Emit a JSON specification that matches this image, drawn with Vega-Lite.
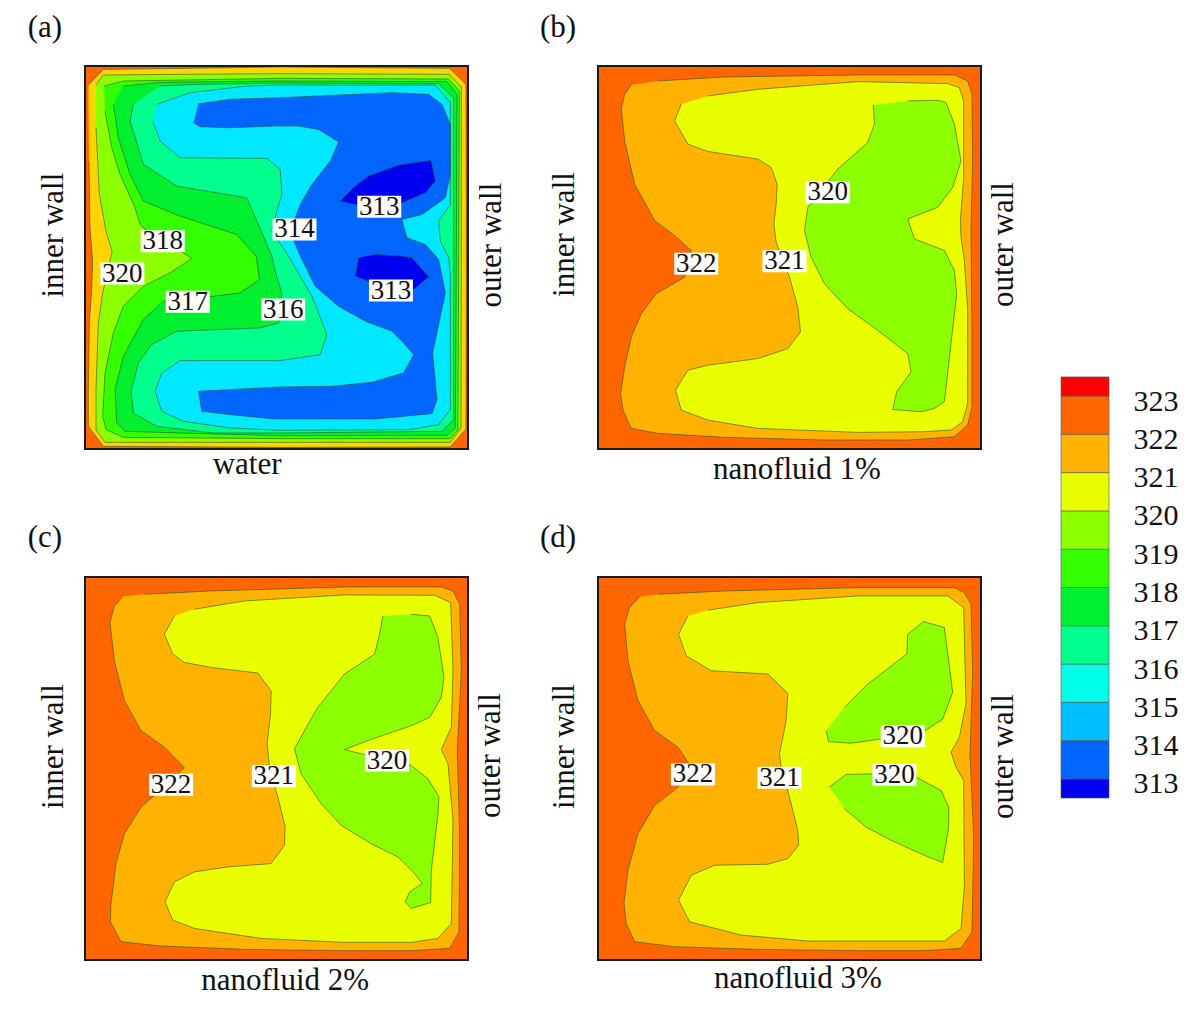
{"$schema":"https://vega.github.io/schema/vega-lite/v6.json","autosize":{"type":"none"},"padding":{"left":85,"top":66,"right":1115,"bottom":943},"background":"white",
"datasets":{
"a":[
{"p":"a1","b":"320-321","x":25,"y":72},{"p":"a1","b":"320-321","x":70,"y":25},{"p":"a1","b":"320-321","x":320,"y":22},{"p":"a1","b":"320-321","x":600,"y":18},{"p":"a1","b":"320-321","x":1108,"y":22},{"p":"a1","b":"320-321","x":1157,"y":70},{"p":"a1","b":"320-321","x":1158,"y":600},{"p":"a1","b":"320-321","x":1157,"y":1103},{"p":"a1","b":"320-321","x":1110,"y":1157},{"p":"a1","b":"320-321","x":600,"y":1158},{"p":"a1","b":"320-321","x":70,"y":1155},{"p":"a1","b":"320-321","x":25,"y":1095},{"p":"a1","b":"320-321","x":25,"y":985},{"p":"a1","b":"320-321","x":28,"y":785},{"p":"a1","b":"320-321","x":35,"y":685},{"p":"a1","b":"320-321","x":38,"y":600},{"p":"a1","b":"320-321","x":30,"y":500},{"p":"a1","b":"320-321","x":27,"y":300},
{"p":"a2","b":"319","x":48,"y":72},{"p":"a2","b":"319","x":70,"y":42},{"p":"a2","b":"319","x":300,"y":40},{"p":"a2","b":"319","x":600,"y":38},{"p":"a2","b":"319","x":1107,"y":40},{"p":"a2","b":"319","x":1143,"y":78},{"p":"a2","b":"319","x":1143,"y":600},{"p":"a2","b":"319","x":1142,"y":1100},{"p":"a2","b":"319","x":1110,"y":1143},{"p":"a2","b":"319","x":600,"y":1143},{"p":"a2","b":"319","x":75,"y":1143},{"p":"a2","b":"319","x":48,"y":1105},{"p":"a2","b":"319","x":48,"y":985},{"p":"a2","b":"319","x":55,"y":785},{"p":"a2","b":"319","x":69,"y":690},{"p":"a2","b":"319","x":90,"y":600},{"p":"a2","b":"319","x":96,"y":570},{"p":"a2","b":"319","x":78,"y":510},{"p":"a2","b":"319","x":58,"y":400},{"p":"a2","b":"319","x":48,"y":200},
{"p":"a3","b":"318","x":72,"y":75},{"p":"a3","b":"318","x":130,"y":60},{"p":"a3","b":"318","x":600,"y":52},{"p":"a3","b":"318","x":1105,"y":54},{"p":"a3","b":"318","x":1137,"y":90},{"p":"a3","b":"318","x":1135,"y":600},{"p":"a3","b":"318","x":1133,"y":1105},{"p":"a3","b":"318","x":1110,"y":1132},{"p":"a3","b":"318","x":600,"y":1132},{"p":"a3","b":"318","x":130,"y":1128},{"p":"a3","b":"318","x":78,"y":1105},{"p":"a3","b":"318","x":68,"y":1065},{"p":"a3","b":"318","x":75,"y":935},{"p":"a3","b":"318","x":100,"y":815},{"p":"a3","b":"318","x":130,"y":735},{"p":"a3","b":"318","x":190,"y":675},{"p":"a3","b":"318","x":270,"y":635},{"p":"a3","b":"318","x":335,"y":592},{"p":"a3","b":"318","x":310,"y":575},{"p":"a3","b":"318","x":250,"y":555},{"p":"a3","b":"318","x":180,"y":490},{"p":"a3","b":"318","x":165,"y":440},{"p":"a3","b":"318","x":120,"y":340},{"p":"a3","b":"318","x":95,"y":260},{"p":"a3","b":"318","x":75,"y":150},
{"p":"a4","b":"317","x":130,"y":75},{"p":"a4","b":"317","x":240,"y":64},{"p":"a4","b":"317","x":600,"y":60},{"p":"a4","b":"317","x":1100,"y":62},{"p":"a4","b":"317","x":1130,"y":100},{"p":"a4","b":"317","x":1128,"y":600},{"p":"a4","b":"317","x":1125,"y":1100},{"p":"a4","b":"317","x":1100,"y":1122},{"p":"a4","b":"317","x":600,"y":1123},{"p":"a4","b":"317","x":300,"y":1115},{"p":"a4","b":"317","x":135,"y":1110},{"p":"a4","b":"317","x":110,"y":1085},{"p":"a4","b":"317","x":105,"y":985},{"p":"a4","b":"317","x":130,"y":885},{"p":"a4","b":"317","x":190,"y":775},{"p":"a4","b":"317","x":250,"y":720},{"p":"a4","b":"317","x":400,"y":705},{"p":"a4","b":"317","x":480,"y":695},{"p":"a4","b":"317","x":538,"y":655},{"p":"a4","b":"317","x":528,"y":585},{"p":"a4","b":"317","x":470,"y":520},{"p":"a4","b":"317","x":300,"y":465},{"p":"a4","b":"317","x":190,"y":420},{"p":"a4","b":"317","x":150,"y":340},{"p":"a4","b":"317","x":115,"y":230},{"p":"a4","b":"317","x":100,"y":130},
{"p":"a5","b":"316","x":240,"y":75},{"p":"a5","b":"316","x":350,"y":70},{"p":"a5","b":"316","x":600,"y":66},{"p":"a5","b":"316","x":1075,"y":68},{"p":"a5","b":"316","x":1120,"y":110},{"p":"a5","b":"316","x":1120,"y":600},{"p":"a5","b":"316","x":1120,"y":1075},{"p":"a5","b":"316","x":1085,"y":1110},{"p":"a5","b":"316","x":600,"y":1115},{"p":"a5","b":"316","x":400,"y":1115},{"p":"a5","b":"316","x":230,"y":1095},{"p":"a5","b":"316","x":160,"y":1055},{"p":"a5","b":"316","x":153,"y":990},{"p":"a5","b":"316","x":175,"y":905},{"p":"a5","b":"316","x":215,"y":850},{"p":"a5","b":"316","x":290,"y":810},{"p":"a5","b":"316","x":540,"y":800},{"p":"a5","b":"316","x":595,"y":785},{"p":"a5","b":"316","x":600,"y":775},{"p":"a5","b":"316","x":605,"y":695},{"p":"a5","b":"316","x":585,"y":630},{"p":"a5","b":"316","x":575,"y":585},{"p":"a5","b":"316","x":500,"y":410},{"p":"a5","b":"316","x":290,"y":375},{"p":"a5","b":"316","x":190,"y":310},{"p":"a5","b":"316","x":150,"y":180},{"p":"a5","b":"316","x":160,"y":130},
{"p":"a6","b":"314-315","x":230,"y":130},{"p":"a6","b":"314-315","x":330,"y":95},{"p":"a6","b":"314-315","x":500,"y":75},{"p":"a6","b":"314-315","x":600,"y":72},{"p":"a6","b":"314-315","x":1065,"y":72},{"p":"a6","b":"314-315","x":1110,"y":125},{"p":"a6","b":"314-315","x":1110,"y":430},{"p":"a6","b":"314-315","x":1075,"y":480},{"p":"a6","b":"314-315","x":1080,"y":540},{"p":"a6","b":"314-315","x":1105,"y":590},{"p":"a6","b":"314-315","x":1110,"y":640},{"p":"a6","b":"314-315","x":1110,"y":1045},{"p":"a6","b":"314-315","x":1075,"y":1090},{"p":"a6","b":"314-315","x":985,"y":1105},{"p":"a6","b":"314-315","x":600,"y":1107},{"p":"a6","b":"314-315","x":450,"y":1100},{"p":"a6","b":"314-315","x":310,"y":1080},{"p":"a6","b":"314-315","x":245,"y":1050},{"p":"a6","b":"314-315","x":225,"y":990},{"p":"a6","b":"314-315","x":245,"y":935},{"p":"a6","b":"314-315","x":300,"y":898},{"p":"a6","b":"314-315","x":600,"y":898},{"p":"a6","b":"314-315","x":720,"y":880},{"p":"a6","b":"314-315","x":740,"y":820},{"p":"a6","b":"314-315","x":695,"y":705},{"p":"a6","b":"314-315","x":625,"y":585},{"p":"a6","b":"314-315","x":575,"y":510},{"p":"a6","b":"314-315","x":590,"y":450},{"p":"a6","b":"314-315","x":605,"y":400},{"p":"a6","b":"314-315","x":600,"y":325},{"p":"a6","b":"314-315","x":560,"y":292},{"p":"a6","b":"314-315","x":300,"y":290},{"p":"a6","b":"314-315","x":240,"y":240},{"p":"a6","b":"314-315","x":218,"y":180},
{"p":"a7","b":"313","x":355,"y":128},{"p":"a7","b":"313","x":450,"y":115},{"p":"a7","b":"313","x":600,"y":110},{"p":"a7","b":"313","x":935,"y":95},{"p":"a7","b":"313","x":1045,"y":100},{"p":"a7","b":"313","x":1085,"y":130},{"p":"a7","b":"313","x":1110,"y":190},{"p":"a7","b":"313","x":1110,"y":340},{"p":"a7","b":"313","x":1095,"y":410},{"p":"a7","b":"313","x":1025,"y":460},{"p":"a7","b":"313","x":965,"y":475},{"p":"a7","b":"313","x":980,"y":530},{"p":"a7","b":"313","x":1035,"y":550},{"p":"a7","b":"313","x":1075,"y":595},{"p":"a7","b":"313","x":1095,"y":695},{"p":"a7","b":"313","x":1057,"y":875},{"p":"a7","b":"313","x":1070,"y":1015},{"p":"a7","b":"313","x":1055,"y":1057},{"p":"a7","b":"313","x":885,"y":1073},{"p":"a7","b":"313","x":585,"y":1073},{"p":"a7","b":"313","x":450,"y":1060},{"p":"a7","b":"313","x":365,"y":1050},{"p":"a7","b":"313","x":355,"y":990},{"p":"a7","b":"313","x":450,"y":985},{"p":"a7","b":"313","x":600,"y":977},{"p":"a7","b":"313","x":755,"y":975},{"p":"a7","b":"313","x":875,"y":963},{"p":"a7","b":"313","x":970,"y":935},{"p":"a7","b":"313","x":1000,"y":880},{"p":"a7","b":"313","x":970,"y":845},{"p":"a7","b":"313","x":935,"y":810},{"p":"a7","b":"313","x":855,"y":780},{"p":"a7","b":"313","x":775,"y":735},{"p":"a7","b":"313","x":705,"y":675},{"p":"a7","b":"313","x":665,"y":595},{"p":"a7","b":"313","x":637,"y":530},{"p":"a7","b":"313","x":645,"y":470},{"p":"a7","b":"313","x":660,"y":430},{"p":"a7","b":"313","x":695,"y":370},{"p":"a7","b":"313","x":750,"y":300},{"p":"a7","b":"313","x":775,"y":243},{"p":"a7","b":"313","x":715,"y":205},{"p":"a7","b":"313","x":655,"y":195},{"p":"a7","b":"313","x":585,"y":195},{"p":"a7","b":"313","x":450,"y":200},{"p":"a7","b":"313","x":360,"y":197},{"p":"a7","b":"313","x":340,"y":185},
{"p":"a8","b":"312","x":780,"y":420},{"p":"a8","b":"312","x":825,"y":375},{"p":"a8","b":"312","x":865,"y":345},{"p":"a8","b":"312","x":955,"y":312},{"p":"a8","b":"312","x":1052,"y":298},{"p":"a8","b":"312","x":1065,"y":360},{"p":"a8","b":"312","x":1035,"y":395},{"p":"a8","b":"312","x":965,"y":425},{"p":"a8","b":"312","x":825,"y":430},
{"p":"a9","b":"312","x":835,"y":590},{"p":"a9","b":"312","x":825,"y":645},{"p":"a9","b":"312","x":865,"y":660},{"p":"a9","b":"312","x":1000,"y":685},{"p":"a9","b":"312","x":1045,"y":647},{"p":"a9","b":"312","x":995,"y":590},{"p":"a9","b":"312","x":965,"y":585},{"p":"a9","b":"312","x":885,"y":580}],
"b":[
{"p":"b1","b":"321","x":120,"y":72},{"p":"b1","b":"321","x":100,"y":100},{"p":"b1","b":"321","x":90,"y":145},{"p":"b1","b":"321","x":100,"y":240},{"p":"b1","b":"321","x":130,"y":370},{"p":"b1","b":"321","x":190,"y":480},{"p":"b1","b":"321","x":250,"y":525},{"p":"b1","b":"321","x":300,"y":570},{"p":"b1","b":"321","x":280,"y":650},{"p":"b1","b":"321","x":195,"y":700},{"p":"b1","b":"321","x":150,"y":760},{"p":"b1","b":"321","x":120,"y":830},{"p":"b1","b":"321","x":100,"y":920},{"p":"b1","b":"321","x":88,"y":1000},{"p":"b1","b":"321","x":95,"y":1050},{"p":"b1","b":"321","x":120,"y":1105},{"p":"b1","b":"321","x":200,"y":1120},{"p":"b1","b":"321","x":400,"y":1132},{"p":"b1","b":"321","x":700,"y":1140},{"p":"b1","b":"321","x":950,"y":1140},{"p":"b1","b":"321","x":1090,"y":1130},{"p":"b1","b":"321","x":1130,"y":1095},{"p":"b1","b":"321","x":1143,"y":1040},{"p":"b1","b":"321","x":1143,"y":850},{"p":"b1","b":"321","x":1140,"y":500},{"p":"b1","b":"321","x":1145,"y":300},{"p":"b1","b":"321","x":1143,"y":100},{"p":"b1","b":"321","x":1130,"y":60},{"p":"b1","b":"321","x":1090,"y":42},{"p":"b1","b":"321","x":800,"y":42},{"p":"b1","b":"321","x":400,"y":48},{"p":"b1","b":"321","x":200,"y":60},
{"p":"b2","b":"320","x":270,"y":130},{"p":"b2","b":"320","x":250,"y":180},{"p":"b2","b":"320","x":290,"y":250},{"p":"b2","b":"320","x":350,"y":272},{"p":"b2","b":"320","x":500,"y":295},{"p":"b2","b":"320","x":540,"y":320},{"p":"b2","b":"320","x":558,"y":370},{"p":"b2","b":"320","x":555,"y":430},{"p":"b2","b":"320","x":548,"y":490},{"p":"b2","b":"320","x":555,"y":545},{"p":"b2","b":"320","x":570,"y":585},{"p":"b2","b":"320","x":595,"y":650},{"p":"b2","b":"320","x":620,"y":740},{"p":"b2","b":"320","x":628,"y":815},{"p":"b2","b":"320","x":590,"y":865},{"p":"b2","b":"320","x":500,"y":895},{"p":"b2","b":"320","x":350,"y":915},{"p":"b2","b":"320","x":290,"y":930},{"p":"b2","b":"320","x":253,"y":990},{"p":"b2","b":"320","x":270,"y":1050},{"p":"b2","b":"320","x":350,"y":1080},{"p":"b2","b":"320","x":500,"y":1105},{"p":"b2","b":"320","x":800,"y":1117},{"p":"b2","b":"320","x":1000,"y":1115},{"p":"b2","b":"320","x":1080,"y":1110},{"p":"b2","b":"320","x":1115,"y":1085},{"p":"b2","b":"320","x":1130,"y":1030},{"p":"b2","b":"320","x":1130,"y":750},{"p":"b2","b":"320","x":1120,"y":600},{"p":"b2","b":"320","x":1110,"y":530},{"p":"b2","b":"320","x":1108,"y":480},{"p":"b2","b":"320","x":1118,"y":350},{"p":"b2","b":"320","x":1118,"y":120},{"p":"b2","b":"320","x":1105,"y":80},{"p":"b2","b":"320","x":1070,"y":68},{"p":"b2","b":"320","x":800,"y":62},{"p":"b2","b":"320","x":500,"y":85},{"p":"b2","b":"320","x":350,"y":105},
{"p":"b3","b":"319","x":847,"y":132},{"p":"b3","b":"319","x":850,"y":190},{"p":"b3","b":"319","x":830,"y":245},{"p":"b3","b":"319","x":740,"y":325},{"p":"b3","b":"319","x":690,"y":390},{"p":"b3","b":"319","x":650,"y":440},{"p":"b3","b":"319","x":640,"y":510},{"p":"b3","b":"319","x":660,"y":590},{"p":"b3","b":"319","x":700,"y":670},{"p":"b3","b":"319","x":770,"y":745},{"p":"b3","b":"319","x":860,"y":810},{"p":"b3","b":"319","x":950,"y":880},{"p":"b3","b":"319","x":960,"y":935},{"p":"b3","b":"319","x":917,"y":995},{"p":"b3","b":"319","x":905,"y":1048},{"p":"b3","b":"319","x":990,"y":1055},{"p":"b3","b":"319","x":1030,"y":1045},{"p":"b3","b":"319","x":1060,"y":1025},{"p":"b3","b":"319","x":1080,"y":850},{"p":"b3","b":"319","x":1097,"y":700},{"p":"b3","b":"319","x":1090,"y":630},{"p":"b3","b":"319","x":1060,"y":570},{"p":"b3","b":"319","x":970,"y":535},{"p":"b3","b":"319","x":950,"y":475},{"p":"b3","b":"319","x":1040,"y":440},{"p":"b3","b":"319","x":1085,"y":380},{"p":"b3","b":"319","x":1110,"y":300},{"p":"b3","b":"319","x":1090,"y":190},{"p":"b3","b":"319","x":1065,"y":125},{"p":"b3","b":"319","x":1040,"y":118},{"p":"b3","b":"319","x":950,"y":120}],
"c":[
{"p":"c1","b":"321","x":135,"y":77},{"p":"c1","b":"321","x":110,"y":105},{"p":"c1","b":"321","x":97,"y":155},{"p":"c1","b":"321","x":110,"y":270},{"p":"c1","b":"321","x":140,"y":390},{"p":"c1","b":"321","x":190,"y":480},{"p":"c1","b":"321","x":260,"y":530},{"p":"c1","b":"321","x":320,"y":592},{"p":"c1","b":"321","x":230,"y":675},{"p":"c1","b":"321","x":190,"y":710},{"p":"c1","b":"321","x":140,"y":790},{"p":"c1","b":"321","x":115,"y":880},{"p":"c1","b":"321","x":100,"y":1000},{"p":"c1","b":"321","x":98,"y":1055},{"p":"c1","b":"321","x":130,"y":1115},{"p":"c1","b":"321","x":250,"y":1128},{"p":"c1","b":"321","x":500,"y":1138},{"p":"c1","b":"321","x":800,"y":1142},{"p":"c1","b":"321","x":1000,"y":1142},{"p":"c1","b":"321","x":1115,"y":1135},{"p":"c1","b":"321","x":1143,"y":1085},{"p":"c1","b":"321","x":1145,"y":800},{"p":"c1","b":"321","x":1138,"y":540},{"p":"c1","b":"321","x":1150,"y":300},{"p":"c1","b":"321","x":1145,"y":100},{"p":"c1","b":"321","x":1125,"y":60},{"p":"c1","b":"321","x":1090,"y":48},{"p":"c1","b":"321","x":800,"y":48},{"p":"c1","b":"321","x":400,"y":60},{"p":"c1","b":"321","x":200,"y":70},
{"p":"c2","b":"320","x":290,"y":135},{"p":"c2","b":"320","x":260,"y":190},{"p":"c2","b":"320","x":285,"y":250},{"p":"c2","b":"320","x":320,"y":275},{"p":"c2","b":"320","x":400,"y":290},{"p":"c2","b":"320","x":540,"y":307},{"p":"c2","b":"320","x":580,"y":360},{"p":"c2","b":"320","x":578,"y":430},{"p":"c2","b":"320","x":568,"y":520},{"p":"c2","b":"320","x":575,"y":590},{"p":"c2","b":"320","x":600,"y":680},{"p":"c2","b":"320","x":622,"y":770},{"p":"c2","b":"320","x":620,"y":825},{"p":"c2","b":"320","x":580,"y":880},{"p":"c2","b":"320","x":450,"y":890},{"p":"c2","b":"320","x":350,"y":905},{"p":"c2","b":"320","x":290,"y":935},{"p":"c2","b":"320","x":262,"y":995},{"p":"c2","b":"320","x":285,"y":1050},{"p":"c2","b":"320","x":350,"y":1075},{"p":"c2","b":"320","x":550,"y":1105},{"p":"c2","b":"320","x":800,"y":1117},{"p":"c2","b":"320","x":1000,"y":1117},{"p":"c2","b":"320","x":1080,"y":1105},{"p":"c2","b":"320","x":1120,"y":1060},{"p":"c2","b":"320","x":1125,"y":750},{"p":"c2","b":"320","x":1110,"y":580},{"p":"c2","b":"320","x":1090,"y":537},{"p":"c2","b":"320","x":1120,"y":470},{"p":"c2","b":"320","x":1125,"y":300},{"p":"c2","b":"320","x":1118,"y":95},{"p":"c2","b":"320","x":1070,"y":73},{"p":"c2","b":"320","x":800,"y":72},{"p":"c2","b":"320","x":500,"y":90},{"p":"c2","b":"320","x":350,"y":115},
{"p":"c3","b":"319","x":915,"y":135},{"p":"c3","b":"319","x":905,"y":190},{"p":"c3","b":"319","x":890,"y":250},{"p":"c3","b":"319","x":800,"y":310},{"p":"c3","b":"319","x":720,"y":410},{"p":"c3","b":"319","x":680,"y":480},{"p":"c3","b":"319","x":650,"y":535},{"p":"c3","b":"319","x":670,"y":610},{"p":"c3","b":"319","x":730,"y":700},{"p":"c3","b":"319","x":790,"y":765},{"p":"c3","b":"319","x":880,"y":820},{"p":"c3","b":"319","x":960,"y":860},{"p":"c3","b":"319","x":1010,"y":910},{"p":"c3","b":"319","x":1033,"y":940},{"p":"c3","b":"319","x":995,"y":965},{"p":"c3","b":"319","x":982,"y":995},{"p":"c3","b":"319","x":1000,"y":1015},{"p":"c3","b":"319","x":1058,"y":997},{"p":"c3","b":"319","x":1060,"y":900},{"p":"c3","b":"319","x":1080,"y":730},{"p":"c3","b":"319","x":1083,"y":680},{"p":"c3","b":"319","x":1050,"y":625},{"p":"c3","b":"319","x":1000,"y":585},{"p":"c3","b":"319","x":850,"y":550},{"p":"c3","b":"319","x":800,"y":537},{"p":"c3","b":"319","x":870,"y":510},{"p":"c3","b":"319","x":1000,"y":465},{"p":"c3","b":"319","x":1055,"y":440},{"p":"c3","b":"319","x":1090,"y":380},{"p":"c3","b":"319","x":1098,"y":320},{"p":"c3","b":"319","x":1080,"y":200},{"p":"c3","b":"319","x":1055,"y":135},{"p":"c3","b":"319","x":1000,"y":130}],
"d":[
{"p":"d1","b":"321","x":145,"y":78},{"p":"d1","b":"321","x":115,"y":110},{"p":"d1","b":"321","x":100,"y":160},{"p":"d1","b":"321","x":110,"y":270},{"p":"d1","b":"321","x":140,"y":390},{"p":"d1","b":"321","x":190,"y":480},{"p":"d1","b":"321","x":260,"y":530},{"p":"d1","b":"321","x":300,"y":590},{"p":"d1","b":"321","x":260,"y":650},{"p":"d1","b":"321","x":190,"y":705},{"p":"d1","b":"321","x":140,"y":790},{"p":"d1","b":"321","x":110,"y":900},{"p":"d1","b":"321","x":98,"y":1000},{"p":"d1","b":"321","x":105,"y":1060},{"p":"d1","b":"321","x":130,"y":1115},{"p":"d1","b":"321","x":250,"y":1130},{"p":"d1","b":"321","x":500,"y":1138},{"p":"d1","b":"321","x":800,"y":1142},{"p":"d1","b":"321","x":1000,"y":1142},{"p":"d1","b":"321","x":1110,"y":1135},{"p":"d1","b":"321","x":1143,"y":1085},{"p":"d1","b":"321","x":1148,"y":800},{"p":"d1","b":"321","x":1137,"y":550},{"p":"d1","b":"321","x":1145,"y":300},{"p":"d1","b":"321","x":1140,"y":100},{"p":"d1","b":"321","x":1120,"y":65},{"p":"d1","b":"321","x":1090,"y":50},{"p":"d1","b":"321","x":800,"y":50},{"p":"d1","b":"321","x":400,"y":60},{"p":"d1","b":"321","x":200,"y":70},
{"p":"d2","b":"320","x":290,"y":135},{"p":"d2","b":"320","x":262,"y":190},{"p":"d2","b":"320","x":285,"y":255},{"p":"d2","b":"320","x":360,"y":300},{"p":"d2","b":"320","x":530,"y":310},{"p":"d2","b":"320","x":590,"y":368},{"p":"d2","b":"320","x":585,"y":450},{"p":"d2","b":"320","x":565,"y":550},{"p":"d2","b":"320","x":570,"y":590},{"p":"d2","b":"320","x":595,"y":680},{"p":"d2","b":"320","x":620,"y":780},{"p":"d2","b":"320","x":623,"y":825},{"p":"d2","b":"320","x":590,"y":865},{"p":"d2","b":"320","x":530,"y":882},{"p":"d2","b":"320","x":370,"y":885},{"p":"d2","b":"320","x":300,"y":915},{"p":"d2","b":"320","x":262,"y":990},{"p":"d2","b":"320","x":295,"y":1055},{"p":"d2","b":"320","x":450,"y":1095},{"p":"d2","b":"320","x":650,"y":1113},{"p":"d2","b":"320","x":1060,"y":1113},{"p":"d2","b":"320","x":1110,"y":1075},{"p":"d2","b":"320","x":1120,"y":950},{"p":"d2","b":"320","x":1118,"y":630},{"p":"d2","b":"320","x":1095,"y":590},{"p":"d2","b":"320","x":1080,"y":545},{"p":"d2","b":"320","x":1105,"y":500},{"p":"d2","b":"320","x":1125,"y":400},{"p":"d2","b":"320","x":1118,"y":110},{"p":"d2","b":"320","x":1070,"y":75},{"p":"d2","b":"320","x":800,"y":75},{"p":"d2","b":"320","x":500,"y":95},{"p":"d2","b":"320","x":350,"y":118},
{"p":"d3","b":"319","x":705,"y":480},{"p":"d3","b":"319","x":712,"y":513},{"p":"d3","b":"319","x":780,"y":518},{"p":"d3","b":"319","x":870,"y":505},{"p":"d3","b":"319","x":1000,"y":482},{"p":"d3","b":"319","x":1055,"y":445},{"p":"d3","b":"319","x":1085,"y":365},{"p":"d3","b":"319","x":1060,"y":170},{"p":"d3","b":"319","x":998,"y":152},{"p":"d3","b":"319","x":950,"y":190},{"p":"d3","b":"319","x":947,"y":250},{"p":"d3","b":"319","x":830,"y":340},{"p":"d3","b":"319","x":760,"y":410},
{"p":"d4","b":"319","x":715,"y":650},{"p":"d4","b":"319","x":765,"y":612},{"p":"d4","b":"319","x":850,"y":610},{"p":"d4","b":"319","x":975,"y":620},{"p":"d4","b":"319","x":1050,"y":660},{"p":"d4","b":"319","x":1073,"y":710},{"p":"d4","b":"319","x":1073,"y":770},{"p":"d4","b":"319","x":1055,"y":877},{"p":"d4","b":"319","x":1000,"y":855},{"p":"d4","b":"319","x":900,"y":810},{"p":"d4","b":"319","x":825,"y":770},{"p":"d4","b":"319","x":760,"y":715}],
"aL":[{"x":248,"y":540,"t":"318"},{"x":127,"y":637,"t":"320"},{"x":323,"y":722,"t":"317"},{"x":609,"y":745,"t":"316"},{"x":643,"y":505,"t":"314"},{"x":897,"y":437,"t":"313"},{"x":932,"y":688,"t":"313"}],
"bL":[{"x":710,"y":395,"t":"320"},{"x":315,"y":610,"t":"322"},{"x":580,"y":602,"t":"321"}],
"cL":[{"x":280,"y":643,"t":"322"},{"x":588,"y":617,"t":"321"},{"x":927,"y":570,"t":"320"}],
"dL":[{"x":305,"y":612,"t":"322"},{"x":565,"y":622,"t":"321"},{"x":935,"y":497,"t":"320"},{"x":910,"y":613,"t":"320"}],
"aT":[{"k":"wall","x":-78,"y":522,"t":"inner wall"},{"k":"wall","x":1236,"y":552,"t":"outer wall"},{"k":"cap","x":501,"y":1212,"t":"water"},{"k":"cap","x":-105,"y":-99,"t":"(a)"}],
"bT":[{"k":"wall","x":-79,"y":522,"t":"inner wall"},{"k":"wall","x":1238,"y":552,"t":"outer wall"},{"k":"cap","x":617,"y":1230,"t":"nanofluid 1%"},{"k":"cap","x":-100,"y":-99,"t":"(b)"}],
"cT":[{"k":"wall","x":-71,"y":528,"t":"inner wall"},{"k":"wall","x":1240,"y":555,"t":"outer wall"},{"k":"cap","x":622,"y":1233,"t":"nanofluid 2%"},{"k":"cap","x":-98,"y":-99,"t":"(c)"}],
"dT":[{"k":"wall","x":-79,"y":528,"t":"inner wall"},{"k":"wall","x":1238,"y":558,"t":"outer wall"},{"k":"cap","x":620,"y":1227,"t":"nanofluid 3%"},{"k":"cap","x":-100,"y":-99,"t":"(d)"}],
"legend":[{"lo":312.5,"hi":313,"b":"312"},{"lo":313,"hi":314,"b":"313"},{"lo":314,"hi":315,"b":"314"},{"lo":315,"hi":316,"b":"315"},{"lo":316,"hi":317,"b":"316"},{"lo":317,"hi":318,"b":"317"},{"lo":318,"hi":319,"b":"318"},{"lo":319,"hi":320,"b":"319"},{"lo":320,"hi":321,"b":"320"},{"lo":321,"hi":322,"b":"321"},{"lo":322,"hi":323,"b":"322"},{"lo":323,"hi":323.5,"b":"323"}]
},
"config":{"axis":{"grid":false}},
"hconcat":[
{"bounds":"flush","spacing":513,"hconcat":[
{"bounds":"flush","spacing":128,"vconcat":[
{"width":383,"height":383,"view":{"fill":"#FF6600","stroke":"#1a1a1a","strokeWidth":2},"layer":[
{"data":{"name":"a"},"mark":{"type":"line","order":null,"stroke":"#2f4f2f","strokeWidth":0.8,"strokeOpacity":0.75},"encoding":{"detail":{"field":"p"},"x":{"field":"x","type":"quantitative","axis":null,"scale":{"domain":[15,1163],"nice":false,"zero":false}},"y":{"field":"y","type":"quantitative","axis":null,"scale":{"domain":[1163,15],"nice":false,"zero":false}},"fill":{"field":"b","type":"nominal","legend":null,"scale":{"domain":["312","313","314","315","316","317","318","319","320","321","322","323","320-321","314-315"],"range":["#0000F0","#0066FF","#00BFFF","#00FFE6","#00FF8C","#00F030","#33FF00","#8CFF00","#E9FF00","#FFB300","#FF6600","#FF0000","#FFD400","#00E8FF"]}}}},
{"data":{"name":"aL"},"mark":{"type":"point","shape":"M-1,-0.5L1,-0.5L1,0.5L-1,0.5Z","filled":true,"fill":"white","opacity":1,"size":1936,"strokeWidth":0},"encoding":{"x":{"field":"x","type":"quantitative"},"y":{"field":"y","type":"quantitative"}}},
{"data":{"name":"aL"},"mark":{"type":"text","font":"Liberation Serif","fontSize":27,"color":"#111"},"encoding":{"x":{"field":"x","type":"quantitative"},"y":{"field":"y","type":"quantitative"},"text":{"field":"t"}}},
{"data":{"name":"aT"},"transform":[{"filter":"datum.k==='cap'"}],"mark":{"type":"text","font":"Liberation Serif","fontSize":31,"color":"#111"},"encoding":{"x":{"field":"x","type":"quantitative"},"y":{"field":"y","type":"quantitative"},"text":{"field":"t"}}},
{"data":{"name":"aT"},"transform":[{"filter":"datum.k==='wall'"}],"mark":{"type":"text","font":"Liberation Serif","fontSize":31,"angle":270,"color":"#111"},"encoding":{"x":{"field":"x","type":"quantitative"},"y":{"field":"y","type":"quantitative"},"text":{"field":"t"}}}
]},
{"width":383,"height":383,"view":{"fill":"#FF6600","stroke":"#1a1a1a","strokeWidth":2},"layer":[
{"data":{"name":"c"},"mark":{"type":"line","order":null,"stroke":"#2f4f2f","strokeWidth":0.8,"strokeOpacity":0.75},"encoding":{"detail":{"field":"p"},"x":{"field":"x","type":"quantitative","axis":null,"scale":{"domain":[22,1170],"nice":false,"zero":false}},"y":{"field":"y","type":"quantitative","axis":null,"scale":{"domain":[1170,18],"nice":false,"zero":false}},"fill":{"field":"b","type":"nominal","legend":null,"scale":{"domain":["312","313","314","315","316","317","318","319","320","321","322","323","320-321","314-315"],"range":["#0000F0","#0066FF","#00BFFF","#00FFE6","#00FF8C","#00F030","#33FF00","#8CFF00","#E9FF00","#FFB300","#FF6600","#FF0000","#FFD400","#00E8FF"]}}}},
{"data":{"name":"cL"},"mark":{"type":"point","shape":"M-1,-0.5L1,-0.5L1,0.5L-1,0.5Z","filled":true,"fill":"white","opacity":1,"size":1936,"strokeWidth":0},"encoding":{"x":{"field":"x","type":"quantitative"},"y":{"field":"y","type":"quantitative"}}},
{"data":{"name":"cL"},"mark":{"type":"text","font":"Liberation Serif","fontSize":27,"color":"#111"},"encoding":{"x":{"field":"x","type":"quantitative"},"y":{"field":"y","type":"quantitative"},"text":{"field":"t"}}},
{"data":{"name":"cT"},"transform":[{"filter":"datum.k==='cap'"}],"mark":{"type":"text","font":"Liberation Serif","fontSize":31,"color":"#111"},"encoding":{"x":{"field":"x","type":"quantitative"},"y":{"field":"y","type":"quantitative"},"text":{"field":"t"}}},
{"data":{"name":"cT"},"transform":[{"filter":"datum.k==='wall'"}],"mark":{"type":"text","font":"Liberation Serif","fontSize":31,"angle":270,"color":"#111"},"encoding":{"x":{"field":"x","type":"quantitative"},"y":{"field":"y","type":"quantitative"},"text":{"field":"t"}}}
]}
]},
{"bounds":"flush","spacing":128,"vconcat":[
{"width":383,"height":383,"view":{"fill":"#FF6600","stroke":"#1a1a1a","strokeWidth":2},"layer":[
{"data":{"name":"b"},"mark":{"type":"line","order":null,"stroke":"#2f4f2f","strokeWidth":0.8,"strokeOpacity":0.75},"encoding":{"detail":{"field":"p"},"x":{"field":"x","type":"quantitative","axis":null,"scale":{"domain":[20,1170],"nice":false,"zero":false}},"y":{"field":"y","type":"quantitative","axis":null,"scale":{"domain":[1167,15],"nice":false,"zero":false}},"fill":{"field":"b","type":"nominal","legend":null,"scale":{"domain":["312","313","314","315","316","317","318","319","320","321","322","323","320-321","314-315"],"range":["#0000F0","#0066FF","#00BFFF","#00FFE6","#00FF8C","#00F030","#33FF00","#8CFF00","#E9FF00","#FFB300","#FF6600","#FF0000","#FFD400","#00E8FF"]}}}},
{"data":{"name":"bL"},"mark":{"type":"point","shape":"M-1,-0.5L1,-0.5L1,0.5L-1,0.5Z","filled":true,"fill":"white","opacity":1,"size":1936,"strokeWidth":0},"encoding":{"x":{"field":"x","type":"quantitative"},"y":{"field":"y","type":"quantitative"}}},
{"data":{"name":"bL"},"mark":{"type":"text","font":"Liberation Serif","fontSize":27,"color":"#111"},"encoding":{"x":{"field":"x","type":"quantitative"},"y":{"field":"y","type":"quantitative"},"text":{"field":"t"}}},
{"data":{"name":"bT"},"transform":[{"filter":"datum.k==='cap'"}],"mark":{"type":"text","font":"Liberation Serif","fontSize":31,"color":"#111"},"encoding":{"x":{"field":"x","type":"quantitative"},"y":{"field":"y","type":"quantitative"},"text":{"field":"t"}}},
{"data":{"name":"bT"},"transform":[{"filter":"datum.k==='wall'"}],"mark":{"type":"text","font":"Liberation Serif","fontSize":31,"angle":270,"color":"#111"},"encoding":{"x":{"field":"x","type":"quantitative"},"y":{"field":"y","type":"quantitative"},"text":{"field":"t"}}}
]},
{"width":383,"height":383,"view":{"fill":"#FF6600","stroke":"#1a1a1a","strokeWidth":2},"layer":[
{"data":{"name":"d"},"mark":{"type":"line","order":null,"stroke":"#2f4f2f","strokeWidth":0.8,"strokeOpacity":0.75},"encoding":{"detail":{"field":"p"},"x":{"field":"x","type":"quantitative","axis":null,"scale":{"domain":[20,1170],"nice":false,"zero":false}},"y":{"field":"y","type":"quantitative","axis":null,"scale":{"domain":[1170,18],"nice":false,"zero":false}},"fill":{"field":"b","type":"nominal","legend":null,"scale":{"domain":["312","313","314","315","316","317","318","319","320","321","322","323","320-321","314-315"],"range":["#0000F0","#0066FF","#00BFFF","#00FFE6","#00FF8C","#00F030","#33FF00","#8CFF00","#E9FF00","#FFB300","#FF6600","#FF0000","#FFD400","#00E8FF"]}}}},
{"data":{"name":"dL"},"mark":{"type":"point","shape":"M-1,-0.5L1,-0.5L1,0.5L-1,0.5Z","filled":true,"fill":"white","opacity":1,"size":1936,"strokeWidth":0},"encoding":{"x":{"field":"x","type":"quantitative"},"y":{"field":"y","type":"quantitative"}}},
{"data":{"name":"dL"},"mark":{"type":"text","font":"Liberation Serif","fontSize":27,"color":"#111"},"encoding":{"x":{"field":"x","type":"quantitative"},"y":{"field":"y","type":"quantitative"},"text":{"field":"t"}}},
{"data":{"name":"dT"},"transform":[{"filter":"datum.k==='cap'"}],"mark":{"type":"text","font":"Liberation Serif","fontSize":31,"color":"#111"},"encoding":{"x":{"field":"x","type":"quantitative"},"y":{"field":"y","type":"quantitative"},"text":{"field":"t"}}},
{"data":{"name":"dT"},"transform":[{"filter":"datum.k==='wall'"}],"mark":{"type":"text","font":"Liberation Serif","fontSize":31,"angle":270,"color":"#111"},"encoding":{"x":{"field":"x","type":"quantitative"},"y":{"field":"y","type":"quantitative"},"text":{"field":"t"}}}
]}
]}
]},
{"width":48,"height":894,"view":{"stroke":null},"data":{"name":"legend"},"mark":{"type":"rect","stroke":"#555","strokeWidth":0.6},"encoding":{"y":{"field":"lo","type":"quantitative","scale":{"domain":[308.27,331.62],"nice":false,"zero":false},"axis":{"orient":"right","title":null,"values":[313,314,315,316,317,318,319,320,321,322,323],"format":"d","domain":false,"ticks":false,"labelFont":"Liberation Serif","labelFontSize":30,"labelColor":"#111","labelPadding":24,"labelOffset":5,"labelOverlap":false,"labelBound":false,"labelFlush":false}},"y2":{"field":"hi"},"fill":{"field":"b","type":"nominal","legend":null,"scale":{"domain":["312","313","314","315","316","317","318","319","320","321","322","323","320-321","314-315"],"range":["#0000F0","#0066FF","#00BFFF","#00FFE6","#00FF8C","#00F030","#33FF00","#8CFF00","#E9FF00","#FFB300","#FF6600","#FF0000","#FFD400","#00E8FF"]}}}}
],"spacing":976,"bounds":"flush"}
